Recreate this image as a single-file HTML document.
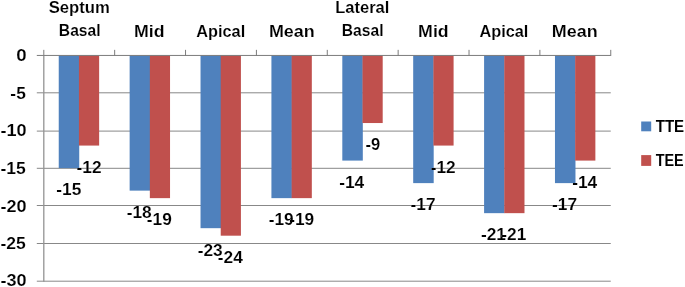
<!DOCTYPE html>
<html lang="en"><head><meta charset="utf-8"><title>TTE vs TEE strain</title>
<style>html,body{margin:0;padding:0;background:#fff;}body{width:685px;height:287px;overflow:hidden;}svg{display:block;}text{font-family:"Liberation Sans",Arial,sans-serif;font-weight:bold;fill:#000;}</style></head><body>
<svg width="685" height="287" viewBox="0 0 685 287">
<rect width="685" height="287" fill="#fff"/>
<g stroke="#888888" stroke-width="1" fill="none"><line x1="36.80" y1="92.80" x2="610.76" y2="92.80"/><line x1="36.80" y1="131.10" x2="610.76" y2="131.10"/><line x1="36.80" y1="168.30" x2="610.76" y2="168.30"/><line x1="36.80" y1="205.50" x2="610.76" y2="205.50"/><line x1="36.80" y1="243.50" x2="610.76" y2="243.50"/><line x1="36.80" y1="281.20" x2="610.76" y2="281.20"/></g>
<rect x="58.74" y="55.45" width="20.50" height="112.65" fill="#4F81BD"/><rect x="78.94" y="55.45" width="20.20" height="90.12" fill="#C0504D"/><rect x="129.64" y="55.45" width="20.50" height="135.18" fill="#4F81BD"/><rect x="149.84" y="55.45" width="20.20" height="142.69" fill="#C0504D"/><rect x="200.53" y="55.45" width="20.50" height="172.73" fill="#4F81BD"/><rect x="220.72" y="55.45" width="20.20" height="180.24" fill="#C0504D"/><rect x="271.42" y="55.45" width="20.50" height="142.69" fill="#4F81BD"/><rect x="291.62" y="55.45" width="20.20" height="142.69" fill="#C0504D"/><rect x="342.31" y="55.45" width="20.50" height="105.14" fill="#4F81BD"/><rect x="362.50" y="55.45" width="20.20" height="67.59" fill="#C0504D"/><rect x="413.19" y="55.45" width="20.50" height="127.67" fill="#4F81BD"/><rect x="433.39" y="55.45" width="20.20" height="90.12" fill="#C0504D"/><rect x="484.09" y="55.45" width="20.50" height="157.71" fill="#4F81BD"/><rect x="504.29" y="55.45" width="20.20" height="157.71" fill="#C0504D"/><rect x="554.97" y="55.45" width="20.50" height="127.67" fill="#4F81BD"/><rect x="575.17" y="55.45" width="20.20" height="105.14" fill="#C0504D"/>
<g stroke="#7c7c7c" stroke-width="1" fill="none"><line x1="36.80" y1="55.45" x2="610.76" y2="55.45"/><line x1="43.80" y1="55.45" x2="43.80" y2="281.70" stroke-width="1.3" stroke="#939393"/><line x1="43.80" y1="49.85" x2="43.80" y2="55.95"/><line x1="114.67" y1="49.85" x2="114.67" y2="55.95"/><line x1="185.54" y1="49.85" x2="185.54" y2="55.95"/><line x1="256.41" y1="49.85" x2="256.41" y2="55.95"/><line x1="327.28" y1="49.85" x2="327.28" y2="55.95"/><line x1="398.15" y1="49.85" x2="398.15" y2="55.95"/><line x1="469.02" y1="49.85" x2="469.02" y2="55.95"/><line x1="539.89" y1="49.85" x2="539.89" y2="55.95"/><line x1="610.76" y1="49.85" x2="610.76" y2="55.95"/></g>
<g font-size="16.5" stroke="#fff" stroke-width="0.14"><text x="26.6" y="61.45" text-anchor="end" textLength="10.37" lengthAdjust="spacingAndGlyphs">0</text><text x="25.80" y="99.30" text-anchor="end" textLength="15.42" lengthAdjust="spacingAndGlyphs">-5</text><text x="26.60" y="136.10" text-anchor="end" textLength="26.15" lengthAdjust="spacingAndGlyphs">-10</text><text x="25.80" y="174.30" text-anchor="end" textLength="25.35" lengthAdjust="spacingAndGlyphs">-15</text><text x="26.60" y="211.50" text-anchor="end" textLength="26.15" lengthAdjust="spacingAndGlyphs">-20</text><text x="25.80" y="248.80" text-anchor="end" textLength="25.35" lengthAdjust="spacingAndGlyphs">-25</text><text x="26.60" y="286.40" text-anchor="end" textLength="26.15" lengthAdjust="spacingAndGlyphs">-30</text><text x="79.24" y="13.00" text-anchor="middle" textLength="61.23" lengthAdjust="spacingAndGlyphs">Septum</text><text x="79.74" y="35.50" text-anchor="middle" textLength="41.74" lengthAdjust="spacingAndGlyphs">Basal</text><text x="149.34" y="36.70" text-anchor="middle" textLength="30.51" lengthAdjust="spacingAndGlyphs">Mid</text><text x="220.72" y="36.70" text-anchor="middle" textLength="49.02" lengthAdjust="spacingAndGlyphs">Apical</text><text x="291.81" y="36.70" text-anchor="middle" textLength="45.76" lengthAdjust="spacingAndGlyphs">Mean</text><text x="362.31" y="13.00" text-anchor="middle" textLength="54.11" lengthAdjust="spacingAndGlyphs">Lateral</text><text x="362.70" y="35.50" text-anchor="middle" textLength="41.74" lengthAdjust="spacingAndGlyphs">Basal</text><text x="433.39" y="36.70" text-anchor="middle" textLength="30.51" lengthAdjust="spacingAndGlyphs">Mid</text><text x="503.89" y="36.70" text-anchor="middle" textLength="49.02" lengthAdjust="spacingAndGlyphs">Apical</text><text x="574.77" y="36.70" text-anchor="middle" textLength="45.76" lengthAdjust="spacingAndGlyphs">Mean</text><text x="68.85" y="195.10" text-anchor="middle" textLength="25.05" lengthAdjust="spacingAndGlyphs">-15</text><text x="89.05" y="172.50" text-anchor="middle" textLength="25.05" lengthAdjust="spacingAndGlyphs">-12</text><text x="139.20" y="218.10" text-anchor="middle" textLength="25.05" lengthAdjust="spacingAndGlyphs">-18</text><text x="159.35" y="225.20" text-anchor="middle" textLength="25.05" lengthAdjust="spacingAndGlyphs">-19</text><text x="210.25" y="255.50" text-anchor="middle" textLength="25.05" lengthAdjust="spacingAndGlyphs">-23</text><text x="230.30" y="262.70" text-anchor="middle" textLength="25.05" lengthAdjust="spacingAndGlyphs">-24</text><text x="281.25" y="225.30" text-anchor="middle" textLength="25.05" lengthAdjust="spacingAndGlyphs">-19</text><text x="301.70" y="225.30" text-anchor="middle" textLength="25.05" lengthAdjust="spacingAndGlyphs">-19</text><text x="351.70" y="188.10" text-anchor="middle" textLength="25.05" lengthAdjust="spacingAndGlyphs">-14</text><text x="372.75" y="149.60" text-anchor="middle">-9</text><text x="423.10" y="209.70" text-anchor="middle" textLength="25.05" lengthAdjust="spacingAndGlyphs">-17</text><text x="443.15" y="172.50" text-anchor="middle" textLength="25.05" lengthAdjust="spacingAndGlyphs">-12</text><text x="493.50" y="239.70" text-anchor="middle" textLength="25.05" lengthAdjust="spacingAndGlyphs">-21</text><text x="513.80" y="239.70" text-anchor="middle" textLength="25.05" lengthAdjust="spacingAndGlyphs">-21</text><text x="564.55" y="209.80" text-anchor="middle" textLength="25.05" lengthAdjust="spacingAndGlyphs">-17</text><text x="584.70" y="187.90" text-anchor="middle" textLength="25.05" lengthAdjust="spacingAndGlyphs">-14</text><text font-size="16" stroke="none" x="655.70" y="132.25" text-anchor="start" textLength="28.42" lengthAdjust="spacingAndGlyphs">TTE</text><text font-size="16" stroke="none" x="655.70" y="165.80" text-anchor="start" textLength="27.98" lengthAdjust="spacingAndGlyphs">TEE</text></g>
<rect x="641.2" y="121.5" width="10" height="9.8" fill="#4F81BD"/><rect x="641.2" y="155.1" width="10" height="10.8" fill="#C0504D"/>
</svg></body></html>
